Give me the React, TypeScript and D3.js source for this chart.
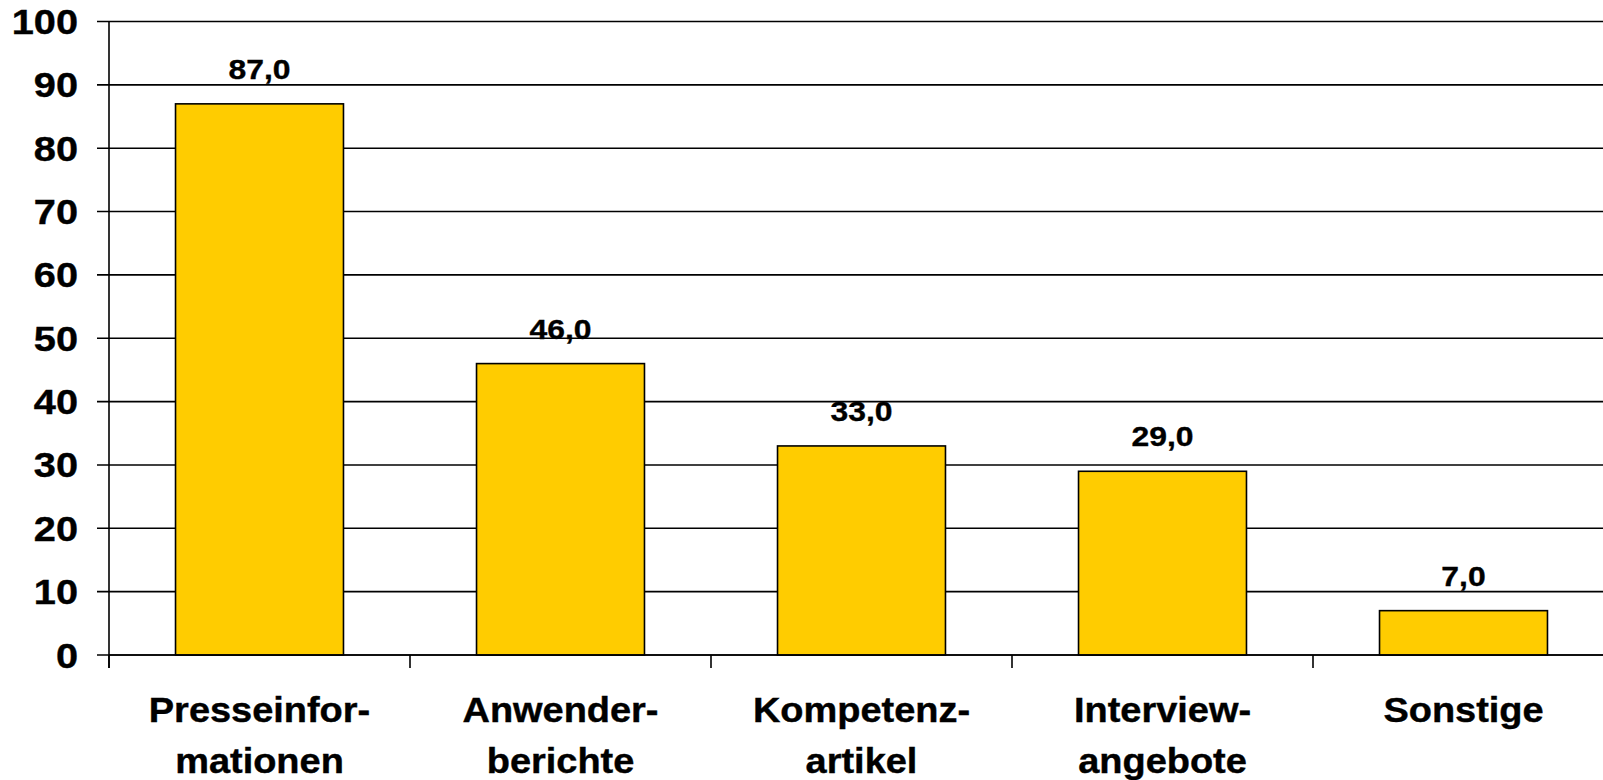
import React from "react";
import * as d3 from "d3";

const categories: string[][] = [
  ["Presseinfor-", "mationen"],
  ["Anwender-", "berichte"],
  ["Kompetenz-", "artikel"],
  ["Interview-", "angebote"],
  ["Sonstige"],
];
const values: number[] = [87, 46, 33, 29, 7];
const yTicks: number[] = [0, 10, 20, 30, 40, 50, 60, 70, 80, 90, 100];

const W = 1603;
const H = 780;
const left = 109;
const top = 21.5;
const bottom = 655;
const bandW = 301;
const FONT = "'Liberation Sans', Arial, Helvetica, sans-serif";

export default function App() {
  const keys = categories.map((c, i) => String(i));
  const x = d3
    .scaleBand<string>()
    .domain(keys)
    .range([left, left + bandW * keys.length])
    .paddingInner(0.442)
    .paddingOuter(0.221);
  const xb = d3.scaleBand<string>().domain(keys).range([left, left + bandW * keys.length]);
  const y = d3.scaleLinear().domain([0, 100]).range([bottom, top]);
  const fmt = (v: number) => d3.format(".1f")(v).replace(".", ",");

  return (
    <svg
      width={W}
      height={H}
      style={{ position: "absolute", left: 0, top: 0, background: "#fff" }}
      fontFamily={FONT}
      fontWeight="bold"
    >
      {yTicks.map((t) => (
        <line key={"g" + t} x1={97} x2={W} y1={y(t)} y2={y(t)} stroke="#000" strokeWidth={1.6} />
      ))}
      {yTicks.map((t) => (
        <text
          key={"yl" + t}
          transform={`translate(78,${y(t) + 12.5}) scale(1.12,1)`}
          textAnchor="end"
          fontSize={35.5}
          fill="#000"
          stroke="#000"
          strokeWidth={0.4}
        >
          {t}
        </text>
      ))}
      {values.map((v, i) => (
        <rect
          key={"b" + i}
          x={x(String(i))!}
          y={y(v)}
          width={x.bandwidth()}
          height={y(0) - y(v)}
          fill="#FFCC00"
          stroke="#000"
          strokeWidth={1.6}
        />
      ))}
      <line x1={left} x2={left} y1={top} y2={668} stroke="#000" strokeWidth={1.6} />
      <line x1={left} x2={W} y1={bottom} y2={bottom} stroke="#000" strokeWidth={1.6} />
      {keys.map((k) => (
        <line key={"xt" + k} x1={xb(k)!} x2={xb(k)!} y1={bottom} y2={668} stroke="#000" strokeWidth={1.6} />
      ))}
      {values.map((v, i) => (
        <text
          key={"v" + i}
          transform={`translate(${x(String(i))! + x.bandwidth() / 2},${y(v) - 25}) scale(1.12,1)`}
          textAnchor="middle"
          fontSize={28.5}
          fill="#000"
          stroke="#000"
          strokeWidth={0.35}
        >
          {fmt(v)}
        </text>
      ))}
      {categories.map((lines, i) =>
        lines.map((ln, j) => (
          <text
            key={"c" + i + "-" + j}
            transform={`translate(${xb(String(i))! + xb.bandwidth() / 2},${722 + j * 51}) scale(1.1,1)`}
            textAnchor="middle"
            fontSize={34.5}
            fill="#000"
            stroke="#000"
            strokeWidth={0.4}
          >
            {ln}
          </text>
        ))
      )}
    </svg>
  );
}
